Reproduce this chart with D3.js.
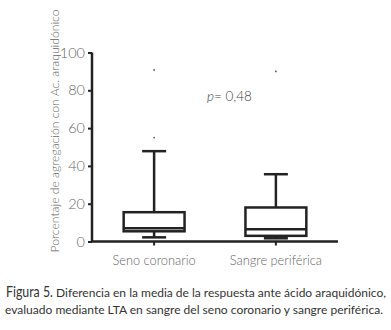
<!DOCTYPE html>
<html><head><meta charset="utf-8">
<script src="https://cdn.jsdelivr.net/npm/d3@7"></script>
<style>body{margin:0;background:#fff}svg{display:block}</style>
</head><body>
<svg id="c" width="391" height="330"></svg>
<script>
const categories = ["Seno coronario", "Sangre periférica"];
const whiskerMin = [2.2, 1.7];
const q1 = [5.4, 3.0];
const median = [7.0, 6.5];
const q3 = [15.5, 18.0];
const whiskerMax = [47.8, 35.6];
const outliers = [[90.8, 55.0], [90.0]];
const yTicks = [0, 20, 40, 60, 80, 100];
const yTitle = "Porcentaje de agregación con Ac. araquidónico";
const pText = "= 0,48";
const captionBold = "Figura 5.";
const captionLine1 = "Diferencia en la media de la respuesta ante ácido araquidónico,";
const captionLine2 = "evaluado mediante LTA en sangre del seno coronario y sangre periférica.";

const svg = d3.select("#c");
const y = d3.scaleLinear().domain([0, 100]).range([241.5, 52.5]);
const x = d3.scaleBand().domain(categories).range([92, 338]).paddingInner(0.5).paddingOuter(0.26);
const ink = "#222";
const gray = "#666";
const font = "Lato, 'Open Sans', sans-serif";

// y axis
const ya = svg.append("g").attr("transform", "translate(92,0)")
  .call(d3.axisLeft(y).tickValues(yTicks).tickSize(4).tickPadding(3));
ya.select(".domain").attr("stroke", ink).attr("stroke-width", 2.5).attr("d", `M0,${y(100)}V${y(0)}`);
ya.selectAll(".tick line").attr("stroke", ink).attr("stroke-width", 2);
ya.selectAll(".tick text").attr("font-family", font).attr("font-weight", 300).attr("font-size", 14.5).attr("fill", gray);

// x axis
const xa = svg.append("g").attr("transform", `translate(0,${y(0)})`)
  .call(d3.axisBottom(x).tickSize(4).tickPadding(5));
xa.select(".domain").attr("stroke", ink).attr("stroke-width", 2.5).attr("d", "M91,0H338");
xa.selectAll(".tick line").attr("stroke", ink).attr("stroke-width", 2);
xa.selectAll(".tick text").attr("font-family", font).attr("font-weight", 300).attr("font-size", 12.8).attr("fill", gray).attr("dy", "1.1em");

// boxes
const bw = x.bandwidth();
categories.forEach((c, i) => {
  const cx = x(c) + bw / 2;
  const g = svg.append("g").attr("stroke", ink).attr("stroke-width", 2.5).attr("fill", "none");
  g.append("line").attr("x1", cx).attr("x2", cx).attr("y1", y(whiskerMax[i])).attr("y2", y(q3[i]));
  g.append("line").attr("x1", cx).attr("x2", cx).attr("y1", y(q1[i])).attr("y2", y(whiskerMin[i]));
  g.append("line").attr("x1", cx - 12).attr("x2", cx + 12).attr("y1", y(whiskerMax[i])).attr("y2", y(whiskerMax[i]));
  g.append("line").attr("x1", cx - 12).attr("x2", cx + 12).attr("y1", y(whiskerMin[i])).attr("y2", y(whiskerMin[i]));
  g.append("rect").attr("x", x(c)).attr("width", bw).attr("y", y(q3[i])).attr("height", y(q1[i]) - y(q3[i]));
  g.append("line").attr("x1", x(c)).attr("x2", x(c) + bw).attr("y1", y(median[i])).attr("y2", y(median[i]));
  outliers[i].forEach(o => {
    svg.append("circle").attr("cx", cx).attr("cy", y(o)).attr("r", 0.9).attr("fill", "#555");
  });
});

// p value
const pt = svg.append("text").attr("x", 207).attr("y", 101).attr("font-family", font).attr("font-weight", 300).attr("font-size", 13.5).attr("fill", "#444");
pt.append("tspan").attr("font-style", "italic").text("p");
pt.append("tspan").text(pText);

// y title
svg.append("text").attr("transform", "translate(59,131) rotate(-90)").attr("text-anchor", "middle")
  .attr("font-family", font).attr("font-weight", 300).attr("font-size", 11.5).attr("fill", gray)
  .attr("textLength", 243).attr("lengthAdjust", "spacingAndGlyphs").text(yTitle);

// caption
svg.append("text").attr("x", 6).attr("y", 297).attr("font-family", font).attr("font-size", 15).attr("fill", "#333")
  .attr("textLength", 47).attr("lengthAdjust", "spacingAndGlyphs").text(captionBold);
svg.append("text").attr("x", 56).attr("y", 297).attr("font-family", font).attr("font-size", 11).attr("fill", "#333")
  .attr("textLength", 330).attr("lengthAdjust", "spacingAndGlyphs").text(captionLine1);
svg.append("text").attr("x", 5).attr("y", 314).attr("font-family", font).attr("font-size", 11).attr("fill", "#333")
  .attr("textLength", 378).attr("lengthAdjust", "spacingAndGlyphs").text(captionLine2);
</script>
</body></html>
